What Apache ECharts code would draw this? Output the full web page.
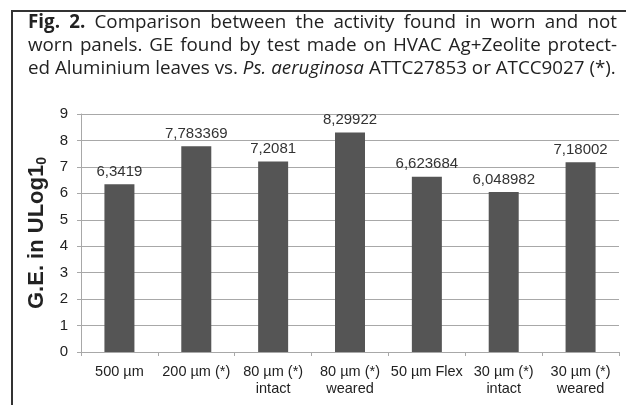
<!DOCTYPE html>
<html>
<head>
<meta charset="utf-8">
<script src="https://cdn.jsdelivr.net/npm/echarts@6/dist/echarts.min.js"></script>
<style>
    body { margin: 0; background: #fff; }
    #wrap { position: relative; width: 626px; height: 405px; overflow: hidden; }
    #frame { position: absolute; left: 11px; top: 10px; width: 640px; height: 420px;
             border-left: 2px solid #333; border-top: 2px solid #333; }
    #caption { position: absolute; left: 28px; top: 10px; width: 589px;
               font-family: 'Open Sans', sans-serif; font-size: 18.8px; line-height: 23px;
               color: #222; }
    #caption div { white-space: nowrap; }
    #caption .j { text-align: justify; text-align-last: justify; white-space: normal; }
    #chart { position: absolute; left: 0; top: 0; width: 626px; height: 405px; }
</style>
</head>
<body>
<div id="wrap">
    <div id="chart"></div>
    <div id="frame"></div>
    <div id="caption">
        <div class="j"><b>Fig. 2.</b> Comparison between the activity found in worn and not</div>
        <div class="j">worn panels. GE found by test made on HVAC Ag+Zeolite protect-</div>
        <div>ed Aluminium leaves vs. <i>Ps. aeruginosa</i> ATTC27853 or ATCC9027 (*).</div>
    </div>
</div>
<script>
// categorie e valori
const categories = ['500 µm', '200 µm (*)', '80 µm (*)\nintact', '80 µm (*)\nweared', '50 µm Flex', '30 µm (*)\nintact', '30 µm (*)\nweared'];
const values = [6.3419, 7.783369, 7.2081, 8.29922, 6.623684, 6.048982, 7.18002];
const valueLabels = ['6,3419', '7,783369', '7,2081', '8,29922', '6,623684', '6,048982', '7,18002'];

const chart = echarts.init(document.getElementById('chart'));

chart.setOption({
    animation: false,
    grid: { left: 81, right: 7, top: 114, bottom: 53 },
    xAxis: {
        type: 'category',
        data: categories,
        axisLine: { lineStyle: { color: '#a8a8a8' } },
        axisTick: { show: true, length: 4, lineStyle: { color: '#a8a8a8' } },
        axisLabel: {
            color: '#222',
            fontFamily: 'Liberation Sans, Arial',
            fontSize: 14.5,
            lineHeight: 17,
            margin: 11,
            interval: 0
        }
    },
    yAxis: {
        type: 'value',
        min: 0,
        max: 9,
        interval: 1,
        name: 'G.E. in ULog1{s|0}',
        nameLocation: 'middle',
        nameGap: 28,
        nameTextStyle: {
            color: '#222',
            fontFamily: 'Liberation Sans, Arial',
            fontSize: 22,
            fontWeight: 'bold',
            rich: {
                s: { fontSize: 14, fontWeight: 'bold', fontFamily: 'Liberation Sans, Arial', color: '#222', verticalAlign: 'bottom', padding: [10, 0, 0, 0] }
            }
        },
        axisLine: { show: true, lineStyle: { color: '#a8a8a8' } },
        axisTick: { show: true, length: 4, lineStyle: { color: '#a8a8a8' } },
        axisLabel: {
            color: '#222',
            fontFamily: 'Liberation Sans, Arial',
            fontSize: 15,
            margin: 13
        },
        splitLine: { lineStyle: { color: '#a8a8a8' } }
    },
    series: [{
        type: 'bar',
        data: values,
        barWidth: 30,
        itemStyle: { color: '#555555' },
        label: {
            show: true,
            position: 'top',
            distance: 5,
            color: '#333',
            fontFamily: 'Liberation Sans, Arial',
            fontSize: 15,
            formatter: p => valueLabels[p.dataIndex]
        }
    }]
});
</script>
</body>
</html>
